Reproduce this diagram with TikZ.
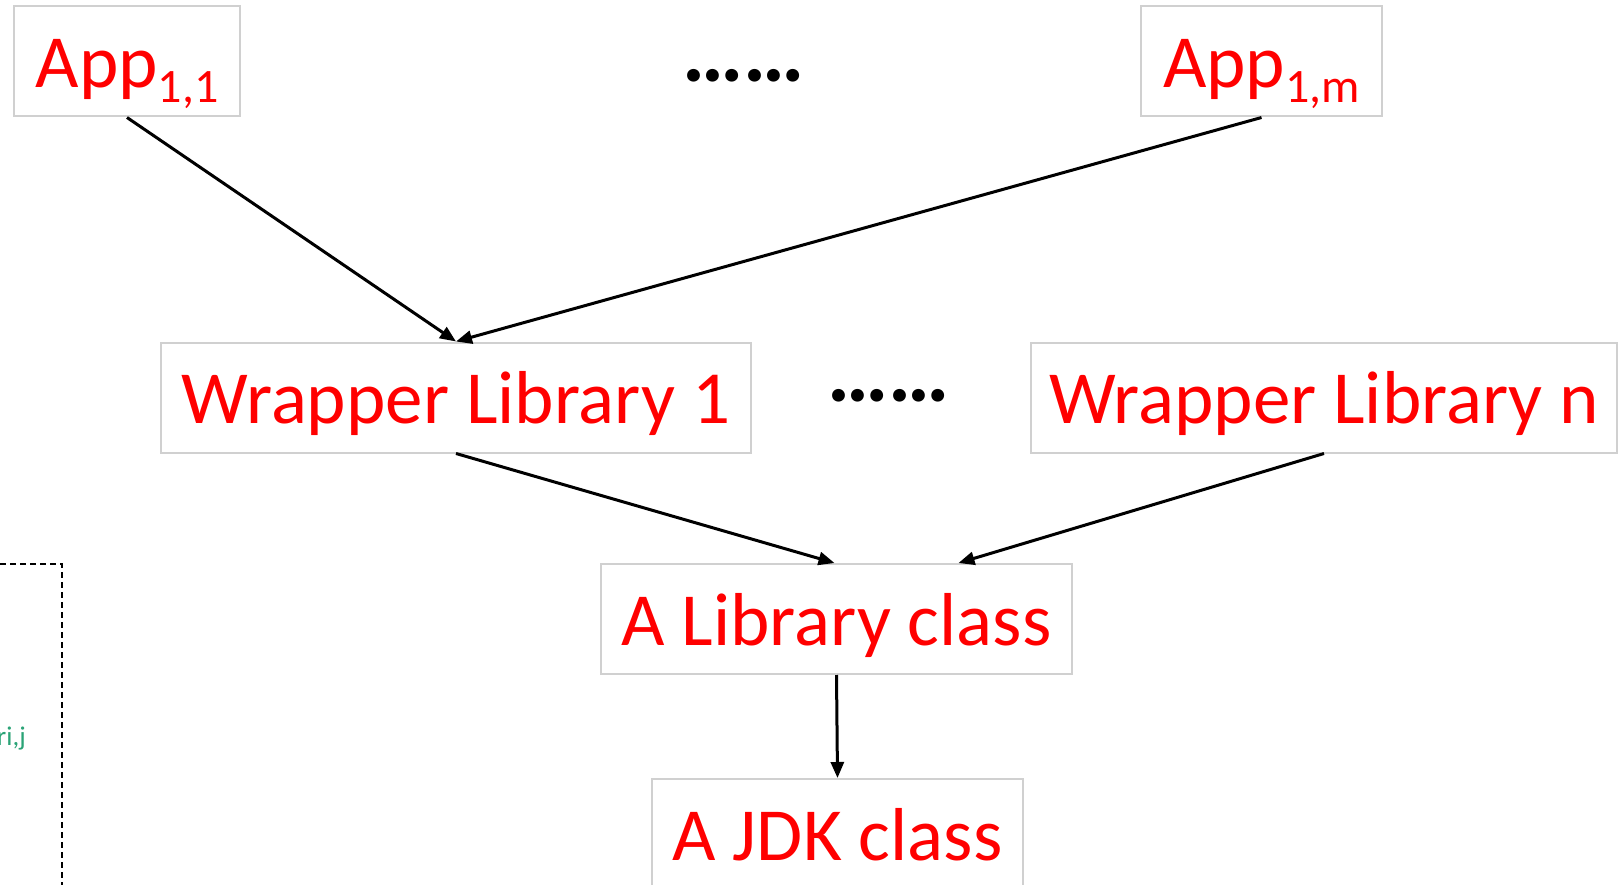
\documentclass[tikz,border=0pt]{standalone}
\usepackage{fontspec}
\setmainfont{Carlito}
\usetikzlibrary{arrows.meta,calc}
\definecolor{boxgray}{RGB}{208,208,208}
\definecolor{labelred}{RGB}{255,0,0}
\definecolor{notegreen}{RGB}{42,163,118}
\newcommand{\bigsz}{\fontsize{75}{82}\selectfont}
\newcommand{\subidx}[1]{\raisebox{-15pt}{\fontsize{48}{52}\selectfont #1}}

\begin{document}
\begin{tikzpicture}[x=1pt,y=-1pt,
  cls/.style={draw=boxgray, line width=2pt, text=labelred, font=\bigsz,
    inner sep=0pt, text height=52pt, text depth=0pt, minimum height=110pt},
  link/.style={draw=black, line width=3pt, -{Triangle[length=16pt,width=13pt]}},
  more/.style={font=\fontsize{86}{90}\selectfont\bfseries, anchor=base, inner sep=0pt}]
\useasboundingbox (0,0) rectangle (1619,885);
\clip (0,0) rectangle (1619,885);

% applications
\node[cls, minimum width=226pt] (app1) at (127,61.5) {App\subidx{1,1}};
\node[cls, minimum width=241pt] (appm) at (1261.5,61.5) {App\subidx{1,m}};
\node[more] (dotsA) at (744,82) {……};

% wrapper libraries
\node[cls, minimum width=590pt] (wl1) at (456,397.5) {Wrapper Library 1};
\node[cls, minimum width=586pt] (wln) at (1324,397.5) {Wrapper Library n};
\node[more] (dotsB) at (888.5,401) {……};

% library and JDK classes
\node[cls, minimum width=471pt] (alc) at (836.5,619) {A Library class};
\node[cls, minimum width=371pt] (jdk) at (837.5,834) {A JDK class};

% dependencies
\draw[link] (app1.south) -- (wl1.north);
\draw[link] (appm.south) -- (wl1.north);
\draw[link] (wl1.south) -- ($(alc.north)+(-2,0)$);
\draw[link] (wln.south) -- ($(alc.north)+(122,0)$);
\draw[link] (alc.south) -- (jdk.north);

% dashed frame at the left edge
\draw[black, line width=1.6pt, dash pattern=on 6pt off 4pt]
  (-20,564) -- (62,564) -- (62,900);
\node[text=notegreen, font=\fontsize{27}{30}\selectfont, anchor=base east, inner sep=0pt]
  (note) at (26,745) {ri,j};
\end{tikzpicture}
\end{document}
